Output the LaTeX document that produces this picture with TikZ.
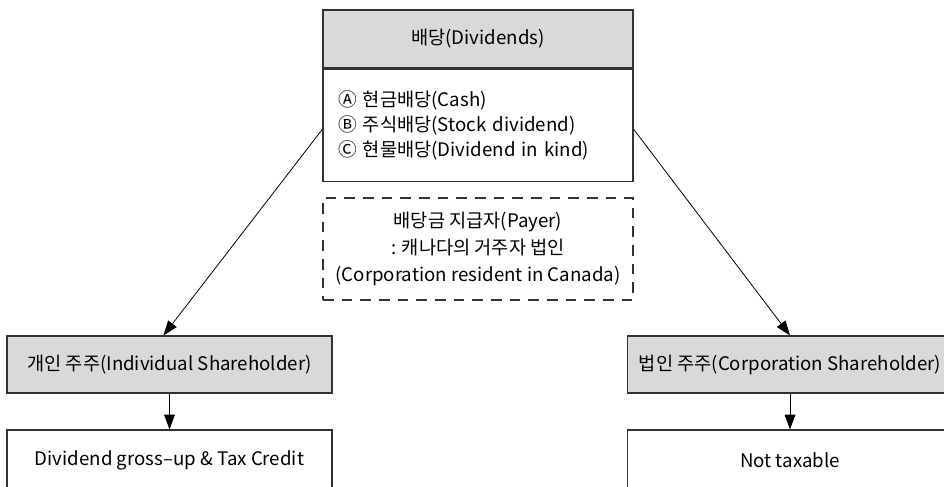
\documentclass[tikz,border=0pt]{standalone}
\usepackage{fontspec}
\setmainfont{Noto Sans CJK KR}
\usetikzlibrary{arrows.meta, positioning}
\definecolor{cline}{HTML}{333333}
\definecolor{cfill}{HTML}{D9D9D9}
\tikzset{
  every picture/.style={font=\fontsize{14}{18.75}\selectfont},
  box/.style={draw=cline, line width=0.9pt, fill=#1, align=center, inner sep=0pt, minimum width=243.75pt, minimum height=42.75pt},
  box/.default=white,
  payerbox/.style={draw=cline, line width=1.5pt, dash pattern=on 8pt off 6pt, align=center, minimum width=232.5pt, minimum height=77pt, font=\fontsize{14}{20}\selectfont},
  arrow/.style={-{Triangle[length=11pt, width=8pt]}, draw=black, line width=0.6pt},
}

\begin{document}
\begin{tikzpicture}[x=0.75pt, y=-0.75pt]
  \useasboundingbox (0,0) rectangle (944,486);
  \clip (0,0) rectangle (944,486);
  % dividends
  \node[box=cfill, minimum width=232.5pt, minimum height=43.5pt] (hdr) at (478,39) {배당(Dividends)};
  \node[box, minimum width=232.5pt, minimum height=84pt, text width=210pt, align=left, anchor=north] (kinds) at (hdr.south)
    {Ⓐ 현금배당(Cash)\\Ⓑ 주식배당(Stock dividend)\\Ⓒ 현물배당(Dividend in kind)};
  % payer
  \node[payerbox] (payer) at (478,249) {배당금 지급자(Payer)\\: 캐나다의 거주자 법인\\(Corporation resident in Canada)};
  % shareholders
  \node[box=cfill] (ind) at (169.5,364.5) {개인 주주(Individual Shareholder)};
  \node[box=cfill] (corp) at (790,364.5) {법인 주주(Corporation Shareholder)};
  \node[box, minimum height=45pt] (indtax) at (169.5,460) {Dividend gross–up \& Tax Credit};
  \node[box, minimum height=45pt] (corptax) at (790,460) {Not taxable};
  % connectors
  \draw[arrow] ([yshift=-3pt]kinds.west) -- ([xshift=-4.5pt]ind.north);
  \draw[arrow] ([yshift=-3pt]kinds.east) -- (corp.north);
  \draw[arrow] (ind) -- (indtax);
  \draw[arrow] (corp) -- (corptax);
\end{tikzpicture}
\end{document}
